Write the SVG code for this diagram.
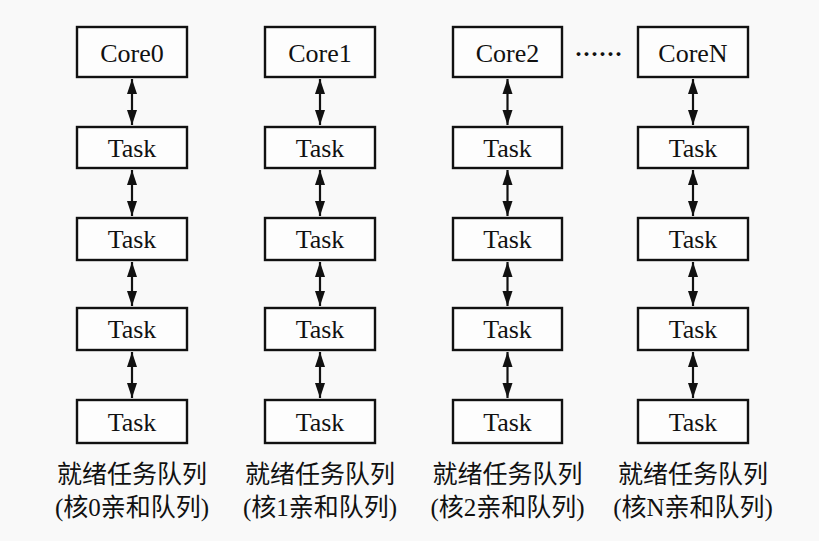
<svg xmlns="http://www.w3.org/2000/svg" width="819" height="541" viewBox="0 0 819 541">
<style>
.box{fill:#fdfdfd;stroke:#111;stroke-width:2.4}
.lbl{font-family:"Liberation Serif","Times New Roman",serif;font-size:26px;fill:#111;text-anchor:middle}
.cap{font-family:"Liberation Serif","Noto Sans CJK SC",serif;font-size:25px;fill:#111;text-anchor:middle}
.conn line{stroke:#111;stroke-width:2.2}
</style>
<defs>
<marker id="ah" markerUnits="userSpaceOnUse" markerWidth="15" markerHeight="11" refX="15" refY="5.5" orient="auto-start-reverse" viewBox="0 0 15 11">
<path d="M0,0.5 L15,5.5 L0,10.5 z" fill="#111"/>
</marker>
</defs>
<rect width="819" height="541" fill="#f9f9f9"/>
<g id="connectors" class="conn">
<line x1="132" y1="79" x2="132" y2="125" marker-start="url(#ah)" marker-end="url(#ah)"/>
<line x1="132" y1="170" x2="132" y2="216" marker-start="url(#ah)" marker-end="url(#ah)"/>
<line x1="132" y1="262" x2="132" y2="306" marker-start="url(#ah)" marker-end="url(#ah)"/>
<line x1="132" y1="352" x2="132" y2="398" marker-start="url(#ah)" marker-end="url(#ah)"/>
<line x1="320" y1="79" x2="320" y2="125" marker-start="url(#ah)" marker-end="url(#ah)"/>
<line x1="320" y1="170" x2="320" y2="216" marker-start="url(#ah)" marker-end="url(#ah)"/>
<line x1="320" y1="262" x2="320" y2="306" marker-start="url(#ah)" marker-end="url(#ah)"/>
<line x1="320" y1="352" x2="320" y2="398" marker-start="url(#ah)" marker-end="url(#ah)"/>
<line x1="507.5" y1="79" x2="507.5" y2="125" marker-start="url(#ah)" marker-end="url(#ah)"/>
<line x1="507.5" y1="170" x2="507.5" y2="216" marker-start="url(#ah)" marker-end="url(#ah)"/>
<line x1="507.5" y1="262" x2="507.5" y2="306" marker-start="url(#ah)" marker-end="url(#ah)"/>
<line x1="507.5" y1="352" x2="507.5" y2="398" marker-start="url(#ah)" marker-end="url(#ah)"/>
<line x1="693" y1="79" x2="693" y2="125" marker-start="url(#ah)" marker-end="url(#ah)"/>
<line x1="693" y1="170" x2="693" y2="216" marker-start="url(#ah)" marker-end="url(#ah)"/>
<line x1="693" y1="262" x2="693" y2="306" marker-start="url(#ah)" marker-end="url(#ah)"/>
<line x1="693" y1="352" x2="693" y2="398" marker-start="url(#ah)" marker-end="url(#ah)"/>
</g>
<g id="core0"><rect class="box" x="77" y="27" width="110" height="50"/><text class="lbl" x="132" y="62">Core0</text></g>
<g id="core1"><rect class="box" x="265" y="27" width="110" height="50"/><text class="lbl" x="320" y="62">Core1</text></g>
<g id="core2"><rect class="box" x="453" y="27" width="109" height="50"/><text class="lbl" x="507.5" y="62">Core2</text></g>
<g id="coreN"><rect class="box" x="638" y="27" width="110" height="50"/><text class="lbl" x="693" y="62">CoreN</text></g>
<g id="dots"><text x="598.5" y="63" style="font-family:'Noto Sans CJK SC',sans-serif;font-size:24px;font-weight:bold;fill:#111;text-anchor:middle">……</text></g>
<g id="c0t1"><rect class="box" x="77" y="127" width="110" height="41"/><text class="lbl" x="132" y="157">Task</text></g>
<g id="c0t2"><rect class="box" x="77" y="218" width="110" height="42"/><text class="lbl" x="132" y="248">Task</text></g>
<g id="c0t3"><rect class="box" x="77" y="308" width="110" height="42"/><text class="lbl" x="132" y="338">Task</text></g>
<g id="c0t4"><rect class="box" x="77" y="400" width="110" height="43"/><text class="lbl" x="132" y="431">Task</text></g>
<g id="c1t1"><rect class="box" x="265" y="127" width="110" height="41"/><text class="lbl" x="320" y="157">Task</text></g>
<g id="c1t2"><rect class="box" x="265" y="218" width="110" height="42"/><text class="lbl" x="320" y="248">Task</text></g>
<g id="c1t3"><rect class="box" x="265" y="308" width="110" height="42"/><text class="lbl" x="320" y="338">Task</text></g>
<g id="c1t4"><rect class="box" x="265" y="400" width="110" height="43"/><text class="lbl" x="320" y="431">Task</text></g>
<g id="c2t1"><rect class="box" x="453" y="127" width="109" height="41"/><text class="lbl" x="507.5" y="157">Task</text></g>
<g id="c2t2"><rect class="box" x="453" y="218" width="109" height="42"/><text class="lbl" x="507.5" y="248">Task</text></g>
<g id="c2t3"><rect class="box" x="453" y="308" width="109" height="42"/><text class="lbl" x="507.5" y="338">Task</text></g>
<g id="c2t4"><rect class="box" x="453" y="400" width="109" height="43"/><text class="lbl" x="507.5" y="431">Task</text></g>
<g id="cNt1"><rect class="box" x="638" y="127" width="110" height="41"/><text class="lbl" x="693" y="157">Task</text></g>
<g id="cNt2"><rect class="box" x="638" y="218" width="110" height="42"/><text class="lbl" x="693" y="248">Task</text></g>
<g id="cNt3"><rect class="box" x="638" y="308" width="110" height="42"/><text class="lbl" x="693" y="338">Task</text></g>
<g id="cNt4"><rect class="box" x="638" y="400" width="110" height="43"/><text class="lbl" x="693" y="431">Task</text></g>
<g id="cap0"><text class="cap" x="132" y="483">就绪任务队列</text><text class="cap" x="132" y="516">(核0亲和队列)</text></g>
<g id="cap1"><text class="cap" x="320" y="483">就绪任务队列</text><text class="cap" x="320" y="516">(核1亲和队列)</text></g>
<g id="cap2"><text class="cap" x="507.5" y="483">就绪任务队列</text><text class="cap" x="507.5" y="516">(核2亲和队列)</text></g>
<g id="capN"><text class="cap" x="693" y="483">就绪任务队列</text><text class="cap" x="693" y="516">(核N亲和队列)</text></g>
</svg>
